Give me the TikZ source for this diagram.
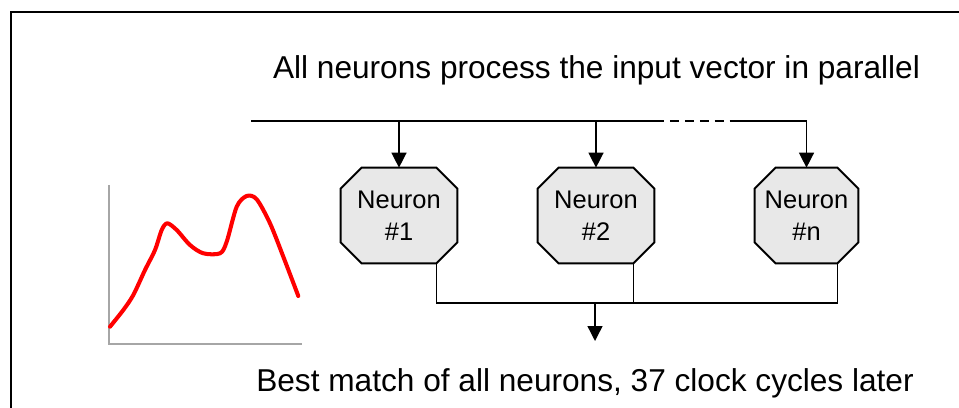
\documentclass[tikz,border=0pt]{standalone}
\usepackage{fontspec}
\setmainfont{Liberation Sans}
\usetikzlibrary{arrows.meta,backgrounds}

\begin{document}
\begin{tikzpicture}[x=0.02cm,y=-0.02cm]
        \tikzset{neuron/.style={rectangle, minimum width=2.32cm, minimum height=1.9cm, inner sep=0pt,
                                align=center, font=\fontsize{14.5}{18}\selectfont},
                 octagon/.style={draw, line width=1.1pt, fill=gray!18},
                 arrow/.style={-{Triangle[length=8.5pt,width=8.5pt]}, line width=0.8pt},
                 caption/.style={anchor=base, font=\fontsize{18}{22}\selectfont}}
        \useasboundingbox (0,0) rectangle (959,408);
        \draw [line width=1.1pt] (11,408) -- (11,12) -- (959,12);
        \node [caption] (top)    at (596.5,79) {All neurons process the input vector in parallel};
        \node [caption] (bottom) at (585,391)  {Best match of all neurons, 37 clock cycles later};
        \node [neuron]                       (n1) at (399,215.5)   {Neuron\\\#1};
        \node [neuron]                       (n2) at (596,215.5)   {Neuron\\\#2};
        \node [neuron, minimum width=2.06cm] (nn) at (806.5,215.5) {Neuron\\\#n};
        \begin{scope}[on background layer]
            \foreach \nd in {n1,n2,nn}
                \draw [octagon] ([xshift=0.42cm]\nd.north west) -- ([xshift=-0.42cm]\nd.north east)
                    -- ([yshift=-0.42cm]\nd.north east) -- ([yshift=0.42cm]\nd.south east)
                    -- ([xshift=-0.42cm]\nd.south east) -- ([xshift=0.42cm]\nd.south west)
                    -- ([yshift=0.42cm]\nd.south west) -- ([yshift=-0.42cm]\nd.north west) -- cycle;
        \end{scope}
        \coordinate (busL)  at (251,121);
        \coordinate (dashL) at (655,121);
        \coordinate (dashR) at (733,121);
        \draw [line width=1.2pt] (busL) -- (dashL);
        \draw [line width=0.8pt, dash pattern=on 5pt off 3.5pt] (dashL) -- (dashR);
        \draw [arrow] (n1.north |- busL) -- (n1.north);
        \draw [arrow] (n2.north |- busL) -- (n2.north);
        \draw [arrow] (dashR) -| (nn.north);
        \coordinate (n1out) at ([xshift=-0.42cm]n1.south east);
        \coordinate (n2out) at ([xshift=-0.42cm]n2.south east);
        \coordinate (nnout) at ([xshift=-0.42cm]nn.south east);
        \coordinate (join)  at (595,303);
        \coordinate (out)   at (595,341);
        \draw [line width=0.8pt] (n1out) |- (join) -| (nnout);
        \draw [line width=0.8pt] (n2out) -- (n2out |- join);
        \draw [arrow] (join) -- (out);
        \draw [gray!70, line width=1.1pt] (109,185) -- (109,344) -- (302,344);
        \draw [red, line width=2.3pt, line join=round, line cap=round] plot [smooth, tension=0.5] coordinates
            {(110,326.7) (123.3,310) (133.3,295) (145,270) (155,250) (161.7,230) (167.3,223.3) (176.7,230)
             (190,245) (203.3,253.3) (220,253.3) (226.7,241.7) (236.7,206.7) (246.7,196) (256.7,199.3)
             (270,223.3) (283.3,256.7) (298.3,296)};
    \end{tikzpicture}
\end{document}
